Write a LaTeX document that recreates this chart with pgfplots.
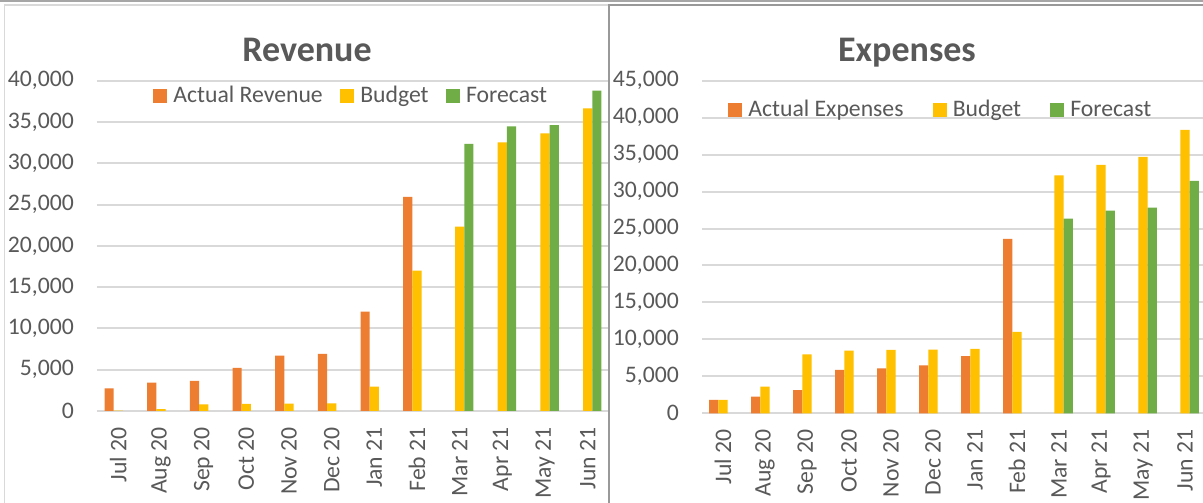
\documentclass[border=0pt]{standalone}
\usepackage{fontspec}
\setmainfont{Carlito}
\usepackage{pgfplots}
\pgfplotsset{compat=1.18}
\definecolor{actual}{HTML}{ED7D31}
\definecolor{budget}{HTML}{FFC000}
\definecolor{forecast}{HTML}{70AD47}
\definecolor{txt}{HTML}{595959}
\definecolor{gridc}{HTML}{D9D9D9}
\definecolor{frameA}{HTML}{A6A6A6}
\definecolor{frameB}{HTML}{999999}
\pgfplotsset{
  excelbar/.style={
    scale only axis, anchor=south west,
    xmin=-0.5, xmax=11.5, ymin=0,
    ybar=0pt, bar width=9.2pt,
    axis line style={draw=none},
    ymajorgrids, major grid style={gridc, line width=2pt},
    major tick length=0pt,
    xtick={0,...,11},
    xticklabels={Jul 20,Aug 20,Sep 20,Oct 20,Nov 20,Dec 20,Jan 21,Feb 21,Mar 21,Apr 21,May 21,Jun 21},
    tick label style={font=\fontsize{23.7}{28}\selectfont, text=txt},
    xticklabel style={rotate=90, anchor=east, inner sep=0pt},
    xticklabel shift=16pt,
    yticklabel style={anchor=east, inner sep=0pt},
    yticklabel shift=23pt,
    scaled y ticks=false,
    legend columns=3,
    legend image code/.code={\fill[##1] (0pt,-0.5pt) rectangle (14pt,13.5pt);},
    legend style={draw=none, fill=none, inner sep=0pt,
      font=\fontsize{23.7}{28}\selectfont, text=txt,
      nodes={inner sep=0pt, text height=15pt, text depth=0pt, anchor=base},
      /tikz/every odd column/.append style={column sep=6.2pt}},
    yticklabel style={/pgf/number format/.cd, fixed, 1000 sep={,}, assume math mode=true},
  }
}
\begin{document}
\begin{tikzpicture}[x=1pt,y=1pt]
\useasboundingbox (0,0) rectangle (1203,503);
\fill[white] (0,0) rectangle (1203,503);
% ---------- Revenue ----------
\begin{scope}
\clip (0,0) rectangle (608,503);
\begin{axis}[excelbar,
  at={(97pt,92pt)}, width=512pt, height=330.3pt,
  ymax=40000, ytick={0,5000,...,40000},
  legend style={at={(0.1094,0.981)}, anchor=north west,
    /tikz/every even column/.append style={column sep=17.3pt}}]
\addplot[fill=actual, draw=none] coordinates {(0,2750)(1,3430)(2,3640)(3,5210)(4,6700)(5,6910)(6,12040)(7,25940)};
\addplot[fill=budget, draw=none] coordinates {(0,50)(1,240)(2,810)(3,850)(4,890)(5,930)(6,2950)(7,17000)(8,22340)(9,32520)(10,33610)(11,36640)};
\addplot[fill=forecast, draw=none] coordinates {(8,32360)(9,34460)(10,34630)(11,38790)};
\legend{Actual Revenue, Budget, Forecast}
\end{axis}
\end{scope}
\node[font=\fontsize{36}{40}\selectfont\bfseries, text=txt, anchor=base] at (307,441) {Revenue};
% ---------- Expenses ----------
\begin{scope}
\clip (609,0) rectangle (1203,503);
\begin{axis}[excelbar,
  at={(702pt,89.7pt)}, width=504pt, height=332.6pt,
  ymax=45000, ytick={0,5000,...,45000},
  legend style={at={(0.0516,0.939)}, anchor=north west,
    /tikz/every even column/.append style={column sep=29pt}}]
\addplot[fill=actual, draw=none] coordinates {(0,1800)(1,2250)(2,3150)(3,5860)(4,6090)(5,6490)(6,7750)(7,23590)};
\addplot[fill=budget, draw=none] coordinates {(0,1800)(1,3600)(2,7980)(3,8480)(4,8570)(5,8610)(6,8700)(7,11000)(8,32200)(9,33600)(10,34680)(11,38340)};
\addplot[fill=forecast, draw=none] coordinates {(8,26340)(9,27420)(10,27820)(11,31440)};
\legend{Actual Expenses, Budget, Forecast}
\end{axis}
\end{scope}
\node[font=\fontsize{36}{40}\selectfont\bfseries, text=txt, anchor=base] at (907,441) {Expenses};
% ---------- frames ----------
\draw[frameA, line width=1.5pt] (0,502) -- (1203,502);
\draw[gridc, line width=1.5pt] (4.5,0) -- (4.5,498) -- (609,498);
\draw[frameB, line width=1.5pt] (609,0) -- (609,498) -- (1203,498);
\end{tikzpicture}
\end{document}
